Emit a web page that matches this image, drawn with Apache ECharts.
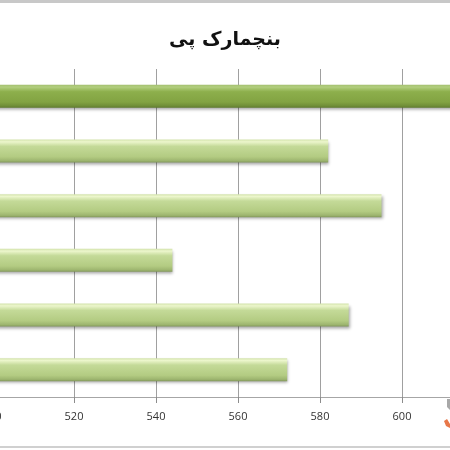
<!DOCTYPE html>
<html>
<head>
<meta charset="utf-8">
<script src="https://cdn.jsdelivr.net/npm/echarts@6/dist/echarts.min.js"></script>
<style>
  html, body { margin: 0; padding: 0; background: #fff; }
  #chart { width: 450px; height: 450px; }
</style>
</head>
<body>
<div id="chart"></div>
<script>
// Benchmark results, listed top to bottom
const categories = ['A', 'B', 'C', 'D', 'E', 'F'];
const scores = [636, 582, 595, 544, 587, 572];
const highlighted = [true, false, false, false, false, false];
const tickValues = [500, 520, 540, 560, 580, 600, 620];
const titleText = 'بنچمارک پی';

const lightFill = new echarts.graphic.LinearGradient(0, 0, 0, 1, [
  { offset: 0, color: '#d3e3ac' },
  { offset: 0.1, color: '#ecf6cc' },
  { offset: 0.3, color: '#c4da98' },
  { offset: 0.75, color: '#b3cb82' },
  { offset: 0.92, color: '#9db56f' },
  { offset: 1, color: '#83985c' }
]);
const darkFill = new echarts.graphic.LinearGradient(0, 0, 0, 1, [
  { offset: 0, color: '#a4c070' },
  { offset: 0.1, color: '#b2ce7e' },
  { offset: 0.3, color: '#8daf4c' },
  { offset: 0.75, color: '#82a342' },
  { offset: 0.92, color: '#6f8d37' },
  { offset: 1, color: '#5d782d' }
]);

const barData = scores.map((v, i) => ({
  value: v,
  itemStyle: { color: highlighted[i] ? darkFill : lightFill }
}));

const chart = echarts.init(document.getElementById('chart'), null, { renderer: 'canvas' });
chart.setOption({
  animation: false,
  backgroundColor: '#fff',
  title: {
    text: titleText,
    left: 'center',
    top: 26,
    textStyle: {
      fontFamily: 'DejaVu Serif, DejaVu Sans',
      fontSize: 19,
      fontWeight: 'bold',
      color: '#111'
    }
  },
  graphic: [
    // frame strips along the top and bottom edges
    { type: 'rect', shape: { x: 0, y: 0, width: 450, height: 3 }, style: { fill: '#c8c8c8' } },
    { type: 'rect', shape: { x: 0, y: 446, width: 450, height: 2 }, style: { fill: '#d0d0d0' } },
    // corner badge peeking in at the bottom right
    { type: 'polygon', shape: { points: [[447, 399], [450, 399], [450, 410], [447, 407]] }, style: { fill: '#a8a8a8' } },
    { type: 'polygon', shape: { points: [[444, 421], [447, 419], [450, 424], [450, 428], [446, 426]] }, style: { fill: '#e8784a' } }
  ],
  grid: {
    left: -8, right: -34, top: 69, bottom: 53,
    containLabel: false,
    outerBoundsMode: 'none'
  },
  xAxis: {
    type: 'value',
    min: tickValues[0],
    max: tickValues[tickValues.length - 1],
    interval: 20,
    axisLine: { show: true, lineStyle: { color: '#a6a6a6', width: 1 } },
    axisTick: { show: true, length: 6, lineStyle: { color: '#8c8c8c' } },
    axisLabel: {
      margin: 14,
      fontFamily: 'Open Sans',
      fontSize: 11,
      color: '#333',
      showMaxLabel: false
    },
    splitLine: { show: true, lineStyle: { color: '#a0a0a0', width: 1 } }
  },
  yAxis: {
    type: 'category',
    data: categories,
    inverse: true,
    axisLine: { show: false },
    axisTick: { show: false },
    axisLabel: { show: false }
  },
  series: [{
    type: 'bar',
    data: barData,
    barWidth: 23,
    itemStyle: {
      shadowColor: 'rgba(0,0,0,0.35)',
      shadowBlur: 3,
      shadowOffsetY: 2,
      shadowOffsetX: 1
    }
  }]
});
</script>
</body>
</html>
